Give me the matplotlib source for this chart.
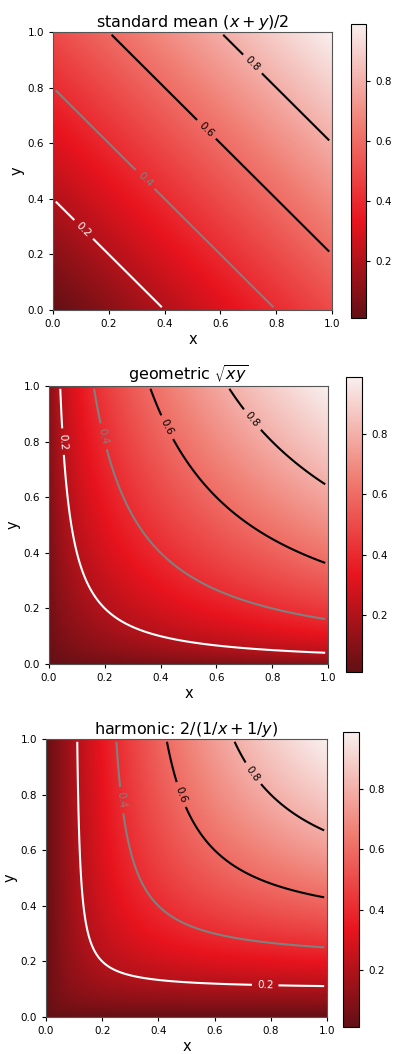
import numpy as np
import matplotlib
matplotlib.use("Agg")
import matplotlib.pyplot as plt
from matplotlib.colors import LinearSegmentedColormap

# grid of x, y values
grid_x = np.linspace(0.01, 0.99, 200)
grid_y = np.linspace(0.01, 0.99, 200)

titles = ["standard mean $(x+y)/2$", r"geometric $\sqrt{xy}$", "harmonic: $2/(1/x+1/y)$"]
levels = [0.2, 0.4, 0.6, 0.8]
level_colors = ["white", "gray", "black", "black"]
cbar_ticks = [0.2, 0.4, 0.6, 0.8]
axis_ticks = [0.0, 0.2, 0.4, 0.6, 0.8, 1.0]

label_positions = [
    [(0.12, 0.3), (0.33, 0.47), (0.55, 0.65), (0.73, 0.9)],
    [(0.05, 0.8), (0.2, 0.82), (0.42, 0.85), (0.73, 0.88)],
    [(0.78, 0.11), (0.27, 0.78), (0.48, 0.8), (0.77, 0.9)],
]

X, Y = np.meshgrid(grid_x, grid_y)
surfaces = [
    (X + Y) / 2,
    np.sqrt(X * Y),
    2 / (1 / X + 1 / Y),
]

cmap = LinearSegmentedColormap.from_list(
    "redwhite",
    [(0.0, "#621015"), (0.33, "#e8141e"), (0.65, "#f07b70"), (1.0, "#f8efee")],
)

W, H = 395, 1054
fig = plt.figure(figsize=(W / 100, H / 100), dpi=100)

# pixel boxes: (left, right, top, bottom)
ax_boxes = [(53, 332, 32, 310), (49, 328, 386, 664), (46, 327, 739, 1017)]
cb_boxes = [(351, 366, 24, 318), (346, 362, 377, 672), (343, 359, 732, 1027)]

def frac(box):
    l, r, t, b = box
    return [l / W, 1 - b / H, (r - l) / W, (b - t) / H]

for i in range(3):
    ax = fig.add_axes(frac(ax_boxes[i]))
    cax = fig.add_axes(frac(cb_boxes[i]))
    Z = surfaces[i]
    im = ax.imshow(Z, origin="lower", extent=[0, 1, 0, 1], cmap=cmap,
                   vmin=Z.min(), vmax=Z.max(), aspect="auto")
    cs = ax.contour(X, Y, Z, levels=levels, colors=level_colors, linewidths=1.5)
    ax.clabel(cs, fontsize=7.5, manual=label_positions[i], inline=True)
    ax.set_xlim(0, 1)
    ax.set_ylim(0, 1)
    ax.set_xticks(axis_ticks)
    ax.set_yticks(axis_ticks)
    ax.tick_params(labelsize=7.5, length=3)
    for s in ax.spines.values():
        s.set_edgecolor("#555555")
    ax.set_title(titles[i], fontsize=11.5, pad=3)
    ax.set_xlabel("x", fontsize=10.5, labelpad=2)
    ax.set_ylabel("y", fontsize=10.5, labelpad=2)
    cb = fig.colorbar(im, cax=cax)
    cb.set_ticks(cbar_ticks)
    cb.ax.tick_params(labelsize=7.5, length=3)

fig.savefig("out.png", dpi=100)
